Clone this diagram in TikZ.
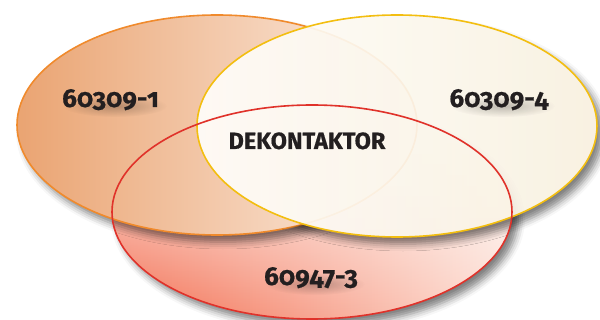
\documentclass[tikz,border=0pt]{standalone}
\usepackage{fontspec}
\setmainfont{Fira Sans}[Numbers=OldStyle, BoldFeatures={FakeBold=0.6}]
\usetikzlibrary{shapes.geometric,shadows.blur,fadings}
\definecolor{orline}{HTML}{F08A2C}
\definecolor{yeline}{HTML}{F3BE10}
\definecolor{reline}{HTML}{E0322A}
\definecolor{orL}{HTML}{EAA472}
\definecolor{orR}{HTML}{FCEEE4}
\definecolor{yeL}{HTML}{FFFEFB}
\definecolor{yeR}{HTML}{F8F0DF}
\definecolor{reB}{HTML}{F26A4C}
\definecolor{reR}{HTML}{FCE0D6}
\definecolor{txt}{HTML}{231F20}
\tikzfading[name=softblob, inner color=transparent!20, outer color=transparent!100]
\tikzfading[name=redfd, bottom color=transparent!0, middle color=transparent!65, top color=transparent!100]
\begin{document}
\begin{tikzpicture}[x=1pt,y=-1pt,
  setnode/.style={ellipse, inner sep=0pt, outer sep=0pt, minimum width=400pt, minimum height=#1, line width=1.6pt},
  shadowpath/.style={blur shadow={shadow xshift=6pt, shadow yshift=-7pt, shadow blur radius=7pt, shadow opacity=50}},
  lbl/.style={font=\bfseries\fontsize{26}{30}\selectfont, text=txt, anchor=base, inner sep=0pt},
  lblsmall/.style={font=\bfseries\fontsize{23.5}{27}\selectfont, text=txt, anchor=base, inner sep=0pt},
  tshadow/.style={fill=black, opacity=0.3, path fading=softblob}
]
\useasboundingbox (0,0) rectangle (600,320);
\coordinate (c1) at (217,125);
\coordinate (c4) at (397,126);
\coordinate (c3) at (312,212);
% red set: shadow outside, faded fill
\begin{scope}[even odd rule]
  \clip (-20,-20) rectangle (620,340) (c3) ellipse [x radius=200pt, y radius=107pt];
  \path[shadowpath] (c3) ellipse [x radius=200pt, y radius=107pt];
\end{scope}
\shade[left color=reB, right color=reR, path fading=redfd] (c3) ellipse [x radius=200pt, y radius=107pt];
% orange set (its shadow kept outside orange and yellow)
\begin{scope}[even odd rule]
  \clip (-20,-20) rectangle (620,340) (c1) ellipse [x radius=200pt, y radius=110pt];
  \clip (-20,-20) rectangle (620,340) (c4) ellipse [x radius=200pt, y radius=111pt];
  \path[shadowpath] (c1) ellipse [x radius=200pt, y radius=110pt];
\end{scope}
\node[setnode=220pt, draw=orline, left color=orL, right color=orR] (s1) at (c1) {};
% yellow set (its shadow kept outside yellow and orange)
\begin{scope}[even odd rule]
  \clip (-20,-20) rectangle (620,340) (c4) ellipse [x radius=200pt, y radius=111pt];
  \clip (-20,-20) rectangle (620,340) (c1) ellipse [x radius=200pt, y radius=110pt];
  \path[shadowpath] (c4) ellipse [x radius=200pt, y radius=111pt];
\end{scope}
\node[setnode=222pt, draw=yeline, left color=yeL, right color=yeR, fill opacity=0.92] (s4) at (c4) {};
% red outline on top
\node[setnode=214pt, draw=reline] (s3) at (c3) {};
% soft shadows under the labels
\fill[tshadow] (115,106) ellipse [x radius=52pt, y radius=11pt];
\fill[tshadow] (503,106) ellipse [x radius=52pt, y radius=11pt];
\fill[tshadow] (315,284) ellipse [x radius=50pt, y radius=11pt];
% labels
\node[lbl] (t1) at (110.5,107) {60309-1};
\node[lbl] (t4) at (499,107) {60309-4};
\node[lbl] (t3) at (311,285) {60947-3};
\node[lblsmall] (tc) at (307,149) {DEKONTAKTOR};
\end{tikzpicture}
\end{document}
